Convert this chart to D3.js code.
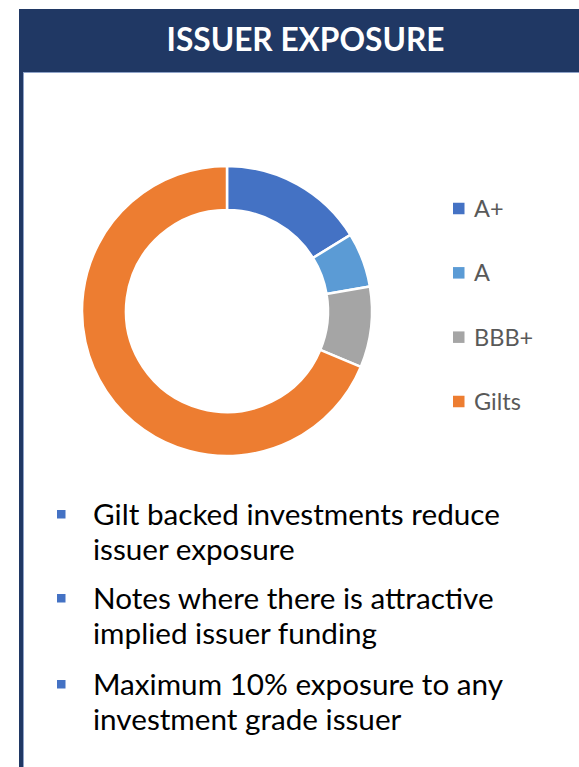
<!DOCTYPE html>
<html>
<head>
<meta charset="utf-8">
<script src="https://cdn.jsdelivr.net/npm/d3@7"></script>
<style>
  html, body { margin: 0; padding: 0; background: #ffffff; }
  svg { display: block; }
</style>
</head>
<body>
<svg id="chart" width="579" height="767"></svg>
<script>
// ---- data ----
const title = "ISSUER EXPOSURE";
const categories = ["A+", "A", "BBB+", "Gilts"];
const values = [16.2, 6.1, 9.0, 68.7];
const colors = ["#4472C4", "#5B9BD5", "#A5A5A5", "#ED7D31"];
const bullets = [
  ["Gilt backed investments reduce", "issuer exposure"],
  ["Notes where there is attractive", "implied issuer funding"],
  ["Maximum 10% exposure to any", "investment grade issuer"]
];

const svg = d3.select("#chart");
const navy = "#203864";
const font = "Lato, 'Open Sans', sans-serif";

// frame: header + left border
svg.append("rect").attr("x", 19).attr("y", 9).attr("width", 560).attr("height", 64).attr("fill", navy);
svg.append("rect").attr("x", 19).attr("y", 9).attr("width", 4).attr("height", 758).attr("fill", navy);
svg.append("line").attr("x1", 23).attr("x2", 579).attr("y1", 72.5).attr("y2", 72.5)
  .attr("stroke", "#8FA3C8").attr("stroke-width", 1);
svg.append("line").attr("x1", 23.5).attr("x2", 23.5).attr("y1", 73).attr("y2", 767)
  .attr("stroke", "#8FA3C8").attr("stroke-width", 1);

// fit text to a target width
function fitText(sel, targetW) {
  const w = sel.node().getComputedTextLength();
  const fs = parseFloat(sel.attr("font-size"));
  sel.attr("font-size", fs * targetW / w);
}

const t = svg.append("text")
  .attr("x", 305.5).attr("y", 51)
  .attr("text-anchor", "middle")
  .attr("font-family", font).attr("font-weight", "bold")
  .attr("font-size", 32).attr("fill", "#ffffff")
  .text(title);
fitText(t, 278);

// donut
const cx = 227, cy = 311, outerR = 145, innerR = 101;
const pie = d3.pie().sort(null).value(d => d)(values);
const arc = d3.arc().innerRadius(innerR).outerRadius(outerR);
const color = d3.scaleOrdinal().domain(categories).range(colors);
svg.append("g").attr("transform", `translate(${cx},${cy})`)
  .selectAll("path").data(pie).enter().append("path")
  .attr("d", arc)
  .attr("fill", (d, i) => color(categories[i]))
  .attr("stroke", "#ffffff").attr("stroke-width", 2.5);

// legend
const legendY = d3.scalePoint().domain(categories).range([208.5, 401.5]);
const lg = svg.append("g");
categories.forEach(c => {
  lg.append("rect").attr("x", 453).attr("y", legendY(c) - 5.75)
    .attr("width", 11.5).attr("height", 11.5).attr("fill", color(c));
  lg.append("text").attr("x", 474).attr("y", legendY(c) + 8.5)
    .attr("font-family", font).attr("font-size", 23.5).attr("fill", "#595959")
    .text(c);
});

// bullets
const bulletY = [525, 609, 695];
let bfs = null;
bullets.forEach((lines, i) => {
  svg.append("rect").attr("x", 57).attr("y", bulletY[i] - 15)
    .attr("width", 8.5).attr("height", 8.5).attr("fill", "#4472C4");
  lines.forEach((ln, j) => {
    const tx = svg.append("text").attr("x", 93).attr("y", bulletY[i] + j * 34.5)
      .attr("font-family", font).attr("font-size", 26).attr("fill", "#000000")
      .text(ln);
    if (i === 0 && j === 0) { fitText(tx, 407); bfs = tx.attr("font-size"); }
    else tx.attr("font-size", bfs);
  });
});
</script>
</body>
</html>
